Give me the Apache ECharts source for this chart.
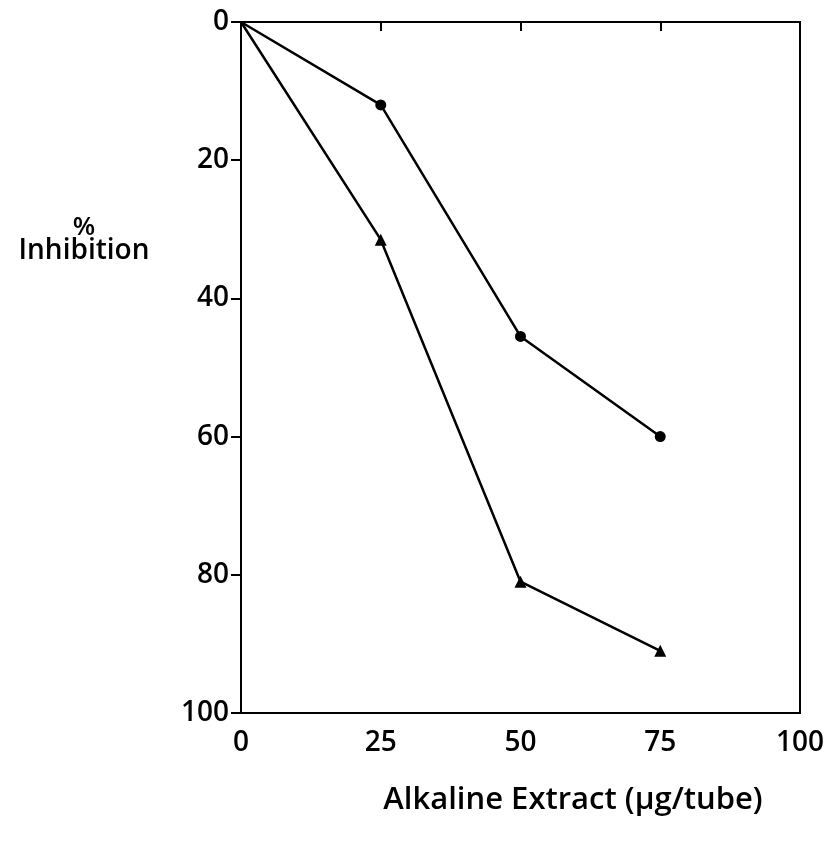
<!DOCTYPE html>
<html>
<head>
<meta charset="utf-8">
<script src="https://cdn.jsdelivr.net/npm/echarts@6/dist/echarts.min.js"></script>
<style>html,body{margin:0;padding:0;background:#fff;}#c{width:833px;height:848px;}</style>
</head>
<body>
<div id="c"></div>
<script>
const xTicks = [0, 25, 50, 75, 100];
const yTicks = [0, 20, 40, 60, 80, 100];
const circleSeries = [[0, 0], [25, 12], [50, 45.5], [75, 60]];
const triangleSeries = [[0, 0], [25, 31.5], [50, 81], [75, 91]];

function withHiddenOrigin(arr) {
  return arr.map((p, i) => i === 0 ? { value: p, symbol: 'none' } : { value: p });
}

const chart = echarts.init(document.getElementById('c'));
const FONT = '"Open Sans", "DejaVu Sans", sans-serif';
chart.setOption({
  backgroundColor: '#fff',
  animation: false,
  grid: { left: 241, right: 33, top: 22, bottom: 135, show: true, borderColor: '#000', borderWidth: 2 },
  xAxis: {
    type: 'value', min: 0, max: 100, interval: 25,
    axisLine: { show: true, lineStyle: { color: '#000', width: 2 } },
    axisTick: { show: true, length: 9, lineStyle: { color: '#000', width: 2 } },
    splitLine: { show: false },
    axisLabel: { color: '#000', fontSize: 28, fontWeight: 600, fontFamily: FONT, margin: 16 }
  },
  yAxis: {
    type: 'value', min: 0, max: 100, interval: 20, inverse: true,
    axisLine: { show: true, lineStyle: { color: '#000', width: 2 } },
    axisTick: { show: true, length: 10, lineStyle: { color: '#000', width: 2 } },
    splitLine: { show: false },
    axisLabel: { color: '#000', fontSize: 28, fontWeight: 600, fontFamily: FONT, margin: 12 }
  },
  graphic: [
    { type: 'text', x: 84, y: 228, style: { text: '%', fill: '#000', fontSize: 26, fontWeight: 600, fontFamily: FONT, align: 'center', verticalAlign: 'middle' } },
    { type: 'text', x: 84, y: 251, style: { text: 'Inhibition', fill: '#000', fontSize: 28, fontWeight: 600, fontFamily: FONT, align: 'center', verticalAlign: 'middle' } },
    { type: 'text', x: 573, y: 800, style: { text: 'Alkaline Extract (µg/tube)', fill: '#000', fontSize: 31, fontWeight: 600, fontFamily: FONT, align: 'center', verticalAlign: 'middle' } }
  ],
  series: [
    { type: 'line', data: withHiddenOrigin(circleSeries), symbol: 'circle', symbolSize: 11, showSymbol: true,
      lineStyle: { color: '#000', width: 2.5 }, itemStyle: { color: '#000' } },
    { type: 'line', data: withHiddenOrigin(triangleSeries), symbol: 'triangle', symbolSize: 12,
      lineStyle: { color: '#000', width: 2.5 }, itemStyle: { color: '#000' } }
  ]
});
</script>
</body>
</html>
